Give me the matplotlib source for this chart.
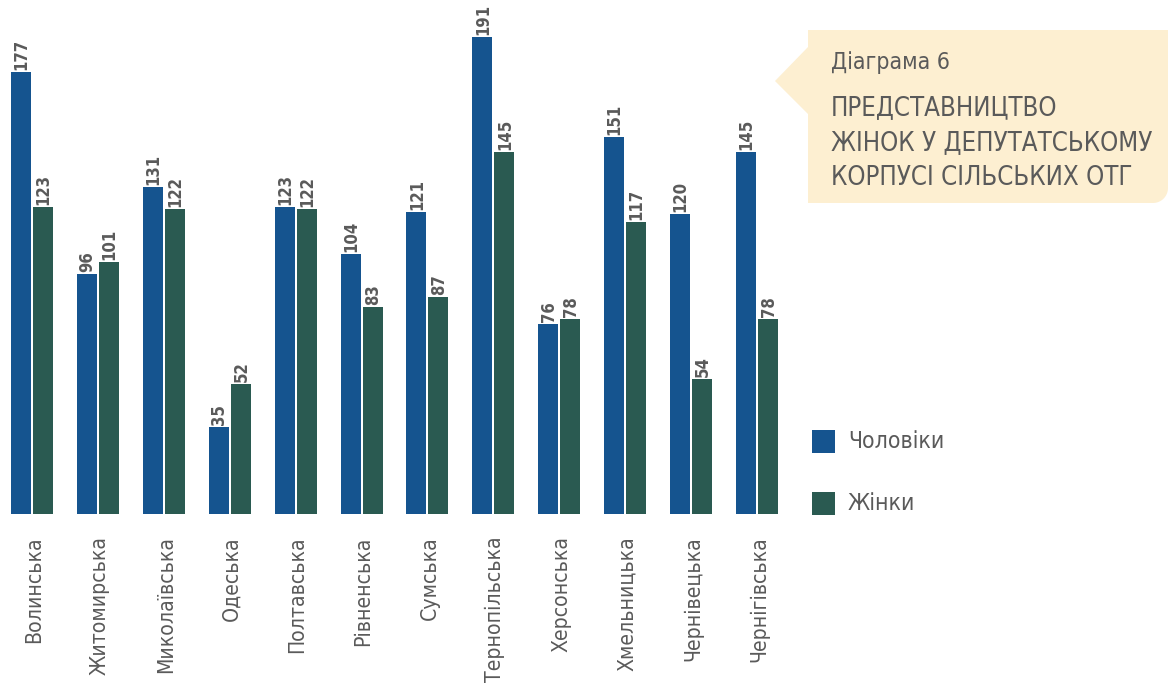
import matplotlib
matplotlib.use('Agg')
import matplotlib.pyplot as plt
from matplotlib.patches import Polygon
import numpy as np

regions = ['Волинська', 'Житомирська', 'Миколаївська', 'Одеська', 'Полтавська',
           'Рівненська', 'Сумська', 'Тернопільська', 'Херсонська', 'Хмельницька',
           'Чернівецька', 'Чернігівська']
men = [177, 96, 131, 35, 123, 104, 121, 191, 76, 151, 120, 145]
women = [123, 101, 122, 52, 122, 83, 87, 145, 78, 117, 54, 78]

blue = '#15548f'
green = '#2a5a51'
grey = '#5a5a5a'
cream = '#fdefd1'

W, H = 1168, 683
fig = plt.figure(figsize=(W / 100, H / 100), dpi=100)

# axes placed in pixel terms: baseline at y=514, 2.497 px per unit
px_unit = 2.497
ax = fig.add_axes([0, (H - 514) / H, 800 / W, 514 / H])
step = 65.9
x = np.arange(len(regions))
bw = 20 / step
off = 11 / step
ax.bar(x - off, men, width=bw, color=blue, label='Чоловіки')
ax.bar(x + off, women, width=bw, color=green, label='Жінки')
ax.set_xlim(-32 / step, (800 - 32) / step)
ax.set_ylim(0, 514 / px_unit)

lab = dict(rotation=90, ha='center', va='bottom', color=grey, fontsize=12,
           fontweight='bold', family='DejaVu Sans', fontstretch='condensed')
for i in range(len(regions)):
    ax.annotate(str(men[i]), (x[i] - off, men[i]), xytext=(0.5, 1.5),
                textcoords='offset points', **lab)
    ax.annotate(str(women[i]), (x[i] + off, women[i]), xytext=(0.5, 1.5),
                textcoords='offset points', **lab)

ax.set_xticks(x + 0.03)
ax.set_xticklabels(regions, rotation=90, color=grey, fontsize=15.2,
                   family='DejaVu Sans', fontstretch='condensed')
ax.tick_params(axis='x', length=0, pad=16)
ax.set_yticks([])
for s in ax.spines.values():
    s.set_visible(False)

# callout box with arrow on the left, rounded bottom-right corner
fx = lambda px: px / W
fy = lambda py: 1 - py / H
r = 15
ang = np.linspace(0, np.pi / 2, 12)
corner = [(1168 - r + r * np.cos(a), 203 - r + r * np.sin(a)) for a in ang]
outline = [(808, 30), (1170, 30)] + corner + [(808, 203), (808, 114), (775, 81), (808, 47)]
fig.patches.append(Polygon([(fx(a), fy(b)) for a, b in outline], closed=True,
                           transform=fig.transFigure, facecolor=cream, edgecolor='none'))
fig.text(fx(831), fy(62), 'Діаграма 6', ha='left', va='center', color=grey,
         fontsize=16.5, family='DejaVu Sans', fontstretch='condensed')
for t, yy in zip(['ПРЕДСТАВНИЦТВО', 'ЖІНОК У ДЕПУТАТСЬКОМУ', 'КОРПУСІ СІЛЬСЬКИХ ОТГ'],
                 [108, 143, 178]):
    fig.text(fx(831), fy(yy), t, ha='left', va='center', color=grey,
             fontsize=18.5, family='DejaVu Sans', fontstretch='condensed')

# legend drawn by hand
for col, name, yy in [(blue, 'Чоловіки', 441), (green, 'Жінки', 503)]:
    fig.patches.append(plt.Rectangle((fx(812), fy(yy + 11.5)), fx(835) - fx(812),
                                     fy(429) - fy(452), transform=fig.transFigure,
                                     facecolor=col, edgecolor='none'))
    fig.text(fx(848), fy(yy), name, ha='left', va='center', color=grey,
             fontsize=16.5, family='DejaVu Sans', fontstretch='condensed')

fig.savefig('out.png', dpi=100)
